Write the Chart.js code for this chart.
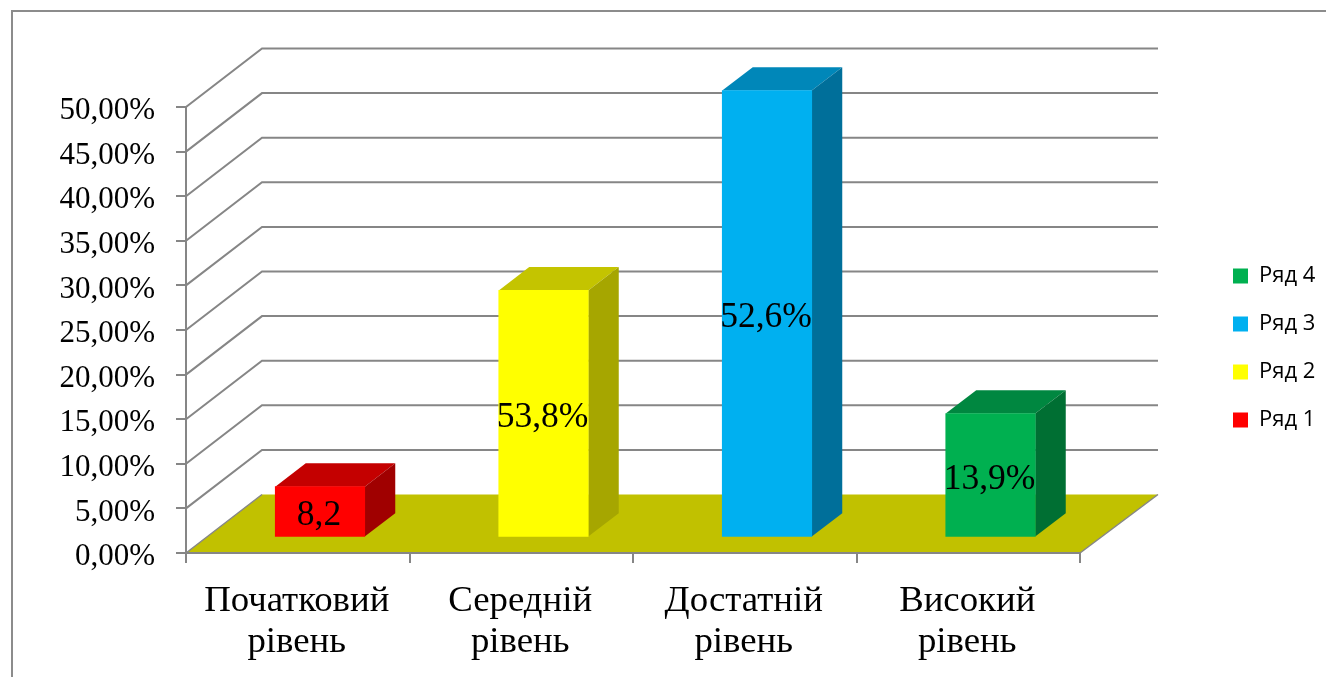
<!DOCTYPE html>
<html><head><meta charset="utf-8">
<style>html,body{margin:0;padding:0;background:#fff}canvas{display:block}</style>
<script src="https://cdn.jsdelivr.net/npm/chart.js@4/dist/chart.umd.min.js"></script>
</head><body><canvas id="c" width="1326" height="677"></canvas>
<script>
const categories = [["Початковий","рівень"],["Середній","рівень"],["Достатній","рівень"],["Високий","рівень"]];
const seriesNames = ["Ряд 1","Ряд 2","Ряд 3","Ряд 4"];
const ryad1 = [5.7,null,null,null];
const ryad2 = [null,27.7,null,null];
const ryad3 = [null,null,50.1,null];
const ryad4 = [null,null,null,13.9];
const barLabels = ["8,2","53,8%","52,6%","13,9%"];
const frontColors = ["#FF0000","#FFFF00","#00B0F0","#00B050"];
const topColors = ["#C40000","#C4C400","#0087B9","#008740"];
const sideColors = ["#A00000","#A6A600","#006F9A","#006F33"];
const floorColor = "#C1C100", gridColor = "#868686";
const depthX = 76, depthXRight = 78, depthY = 58.5, barShiftX = 22.25, barShiftY = 15.5, barDepthX = 30.5, barDepthY = 23.3;

function poly(ctx, pts, fill){ctx.beginPath();pts.forEach((p,i)=>i?ctx.lineTo(p[0],p[1]):ctx.moveTo(p[0],p[1]));ctx.closePath();ctx.fillStyle=fill;ctx.fill();}

const box3d = {
  id:'box3d',
  beforeLayout(chart){
    const l = chart.legend;
    if(!l._wrapped){const f=l.fit;l.fit=function(){f.call(this);this.width=246;};l._wrapped=true;}
  },
  afterLayout(chart){
    const l = chart.legend;
    const pad = l.options.labels.padding;
    l.left = 1233 - pad; l.right = 1326; l.width = l.right - l.left; l.top = 265 - pad;
  },
  beforeDraw(chart){
    const {ctx} = chart, x = chart.scales.x, y = chart.scales.y;
    ctx.save();
    ctx.strokeStyle = "#8C8C8C"; ctx.lineWidth = 2;
    ctx.beginPath(); ctx.moveTo(12,677); ctx.lineTo(12,11); ctx.lineTo(1326,11); ctx.stroke();
    ctx.strokeStyle = gridColor; ctx.lineWidth = 2;
    y.ticks.forEach(t=>{
      if(t.value===0) return;
      const py = y.getPixelForValue(t.value);
      ctx.beginPath(); ctx.moveTo(x.left,py); ctx.lineTo(x.left+depthX,py-depthY); ctx.lineTo(x.right+depthXRight,py-depthY); ctx.stroke();
    });
    const y0 = y.getPixelForValue(0);
    poly(ctx,[[x.left,y0],[x.right,y0],[x.right+depthXRight,y0-depthY],[x.left+depthX,y0-depthY]],floorColor);
    ctx.lineWidth = 1.5; ctx.beginPath(); ctx.moveTo(x.right,y0); ctx.lineTo(x.right+depthXRight,y0-depthY); ctx.stroke();
    ctx.beginPath(); ctx.moveTo(x.left,y0); ctx.lineTo(x.left+depthX,y0-depthY); ctx.stroke();
    ctx.restore();
  },
  beforeDatasetDraw(chart,args){
    const {ctx} = chart, i = args.index, el = args.meta.data[i];
    ctx.save();
    ctx.translate(barShiftX,-barShiftY);
    const l = el.x-el.width/2, r = el.x+el.width/2, t = el.y, b = el.base;
    poly(ctx,[[l,t],[r,t],[r+barDepthX,t-barDepthY],[l+barDepthX,t-barDepthY]],topColors[i]);
    poly(ctx,[[r,t],[r+barDepthX,t-barDepthY],[r+barDepthX,b-barDepthY],[r,b]],sideColors[i]);
  },
  afterDatasetDraw(chart,args){
    const {ctx} = chart, i = args.index, el = args.meta.data[i];
    ctx.fillStyle = "#000"; ctx.font = "35.5px 'Liberation Serif'"; ctx.textAlign="center"; ctx.textBaseline="middle";
    ctx.fillText(barLabels[i], el.x-1, (el.y+el.base)/2+4.5);
    ctx.restore();
  }
};

new Chart(document.getElementById('c'),{
  type:'bar',
  data:{labels:categories,datasets:[ryad1,ryad2,ryad3,ryad4].map((d,i)=>({
    label:seriesNames[i],data:d,backgroundColor:frontColors[i],borderWidth:0,barThickness:89.5,clip:false
  }))},
  options:{
    responsive:false,animation:false,
    layout:{padding:{left:0,right:0,top:107,bottom:0}},
    plugins:{
      tooltip:{enabled:false},
      legend:{position:'right',align:'start',reverse:true,
        labels:{boxWidth:15,boxHeight:15,padding:26,color:"#000",font:{family:"Open Sans",size:22,lineHeight:1.2}}}
    },
    scales:{
      x:{stacked:true,afterFit(s){s.height=124;},
        border:{color:gridColor,width:2},
        grid:{drawOnChartArea:false,drawTicks:true,tickLength:10,color:gridColor,lineWidth:2},
        ticks:{color:"#000",font:{family:"Liberation Serif",size:36.8,lineHeight:1.135},padding:17,labelOffset:-1,maxRotation:0,autoSkip:false}},
      y:{stacked:true,min:0,max:50,afterFit(s){s.width=186;},
        border:{color:gridColor,width:2},
        grid:{drawOnChartArea:false,drawTicks:true,tickLength:10,color:gridColor,lineWidth:2},
        ticks:{stepSize:5,color:"#000",padding:21,labelOffset:4,font:{family:"Liberation Serif",size:31},
          callback:v=>v.toFixed(2).replace('.',',')+'%'}}
    }
  },
  plugins:[box3d]
});
</script></body></html>
